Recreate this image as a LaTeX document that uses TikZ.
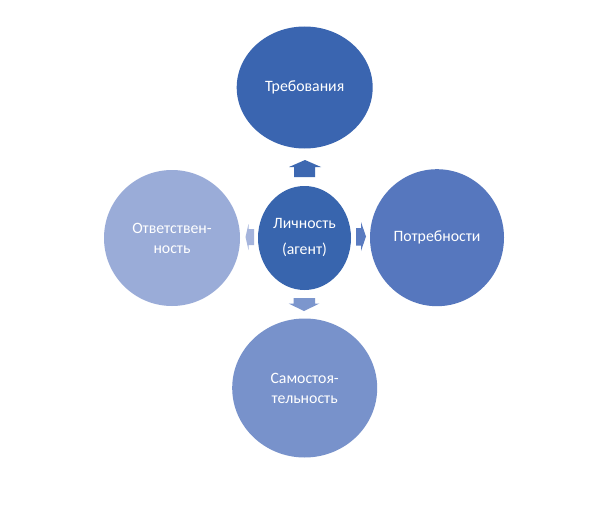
\documentclass[tikz,border=0pt]{standalone}
\usepackage{fontspec}
\setmainfont{Carlito}
\usetikzlibrary{shapes.geometric}
\definecolor{cTop}{HTML}{3A65B0}
\definecolor{cMid}{HTML}{3865AE}
\definecolor{cRight}{HTML}{5677BE}
\definecolor{cBot}{HTML}{7892CB}
\definecolor{cLeft}{HTML}{9AACD8}
\definecolor{aUp}{HTML}{3D68B1}
\definecolor{aRight}{HTML}{5A7BC0}
\definecolor{aDown}{HTML}{7C96CD}
\definecolor{aLeft}{HTML}{A5B4DC}
\begin{document}
\begin{tikzpicture}[x=1pt,y=-1pt,
  blob/.style={ellipse,inner sep=0pt,text=white,align=center,font=\fontsize{15.8}{20}\selectfont}]
\useasboundingbox (0,0) rectangle (600,511);
\fill[white] (0,0) rectangle (600,511);
\node[blob,fill=cTop,minimum width=136pt,minimum height=122pt] (top) at (304.7,87.5) {Требования};
\node[blob,fill=cRight,minimum width=134pt,minimum height=137pt] (right) at (437,237.7) {Потребности};
\node[blob,fill=cLeft,minimum width=136pt,minimum height=136pt] (left) at (172,238) {Ответствен-\\ность};
\node[blob,fill=cBot,minimum width=145pt,minimum height=139pt] (bot) at (304.7,388) {Самостоя-\\тельность};
\node[blob,fill=cMid,minimum width=93pt,minimum height=104pt,font=\fontsize{15.8}{26}\selectfont] (mid) at (304.5,238) {Личность\\(агент)};
% block arrows
\fill[aUp] (294,177) -- (294,167) -- (289,167) -- (305,160) -- (321,167) -- (315,167) -- (315,177) -- cycle;
\fill[aDown] (293.5,298) -- (293.5,303.5) -- (288.5,303.5) -- (304,311) -- (319.5,303.5) -- (315,303.5) -- (315,298) -- cycle;
\fill[aRight] (356,228) -- (361,228) -- (361,222) -- (366,236.5) -- (361,251) -- (361,245.5) -- (356,245.5) -- cycle;
\fill[aLeft] (254,229) -- (248.5,229) -- (248.5,224) -- (245.5,237) -- (248.5,250) -- (248.5,245) -- (254,245) -- cycle;
\end{tikzpicture}
\end{document}
